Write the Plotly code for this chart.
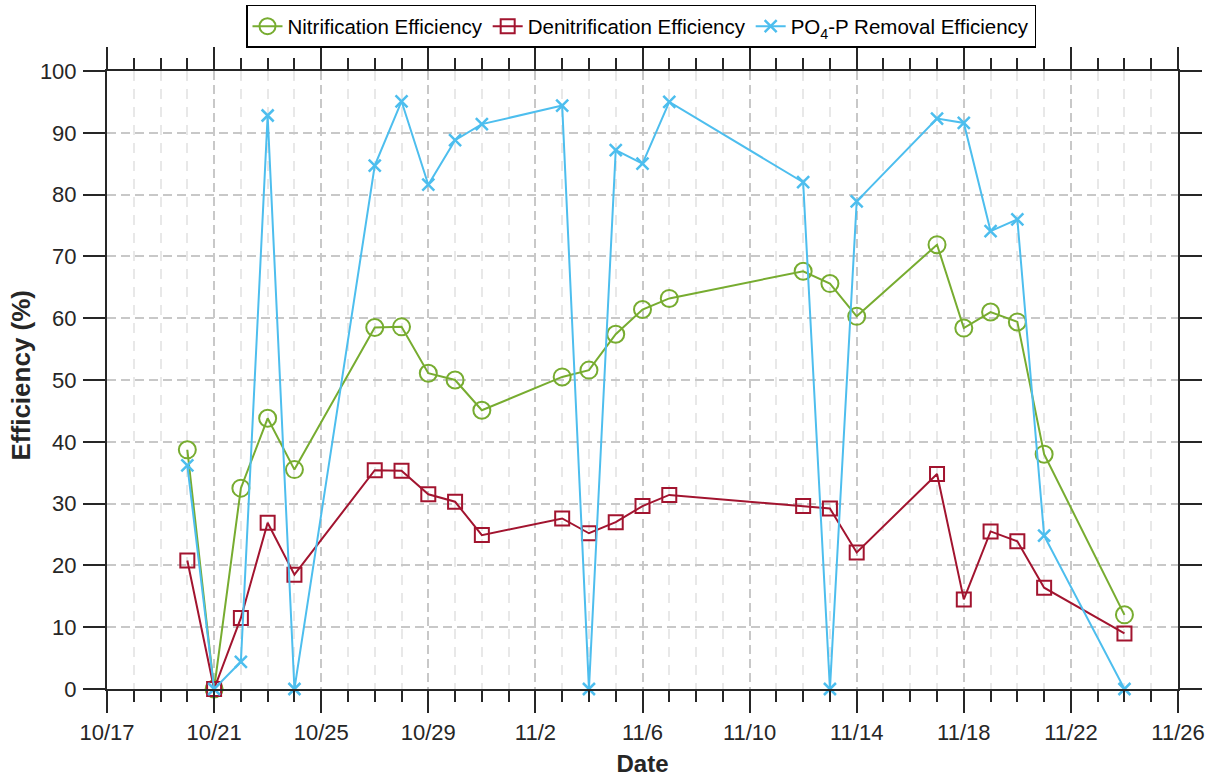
import plotly.graph_objects as go

dates = ["2023-10-20", "2023-10-21", "2023-10-22", "2023-10-23", "2023-10-24",
         "2023-10-27", "2023-10-28", "2023-10-29", "2023-10-30", "2023-10-31",
         "2023-11-03", "2023-11-04", "2023-11-05", "2023-11-06", "2023-11-07",
         "2023-11-12", "2023-11-13", "2023-11-14", "2023-11-17", "2023-11-18",
         "2023-11-19", "2023-11-20", "2023-11-21", "2023-11-24"]
nitrification = [38.7, 0, 32.5, 43.8, 35.5, 58.5, 58.6, 51.1, 50.0, 45.1,
                 50.5, 51.6, 57.4, 61.4, 63.2, 67.6, 65.6, 60.3, 71.9, 58.4,
                 61.0, 59.4, 38.0, 12.0]
denitrification = [20.8, 0, 11.5, 26.9, 18.5, 35.4, 35.3, 31.5, 30.3, 24.9,
                   27.6, 25.2, 27.0, 29.6, 31.4, 29.6, 29.2, 22.1, 34.8, 14.5,
                   25.5, 23.9, 16.4, 9.0]
po4_removal = [36.2, 0, 4.4, 92.8, 0, 84.7, 95.1, 81.6, 88.8, 91.4,
               94.4, 0, 87.2, 85.0, 95.0, 82.0, 0, 78.9, 92.3, 91.6,
               74.1, 76.0, 24.8, 0]

series_names = ["Nitrification Efficiency", "Denitrification Efficiency",
                "PO<sub>4</sub>-P Removal Efficiency"]
x_range = ["2023-10-17", "2023-11-26"]
y_ticks = [0, 10, 20, 30, 40, 50, 60, 70, 80, 90, 100]

FONT = "Liberation Sans, Arial, sans-serif"

fig = go.Figure()
fig.add_trace(go.Scatter(
    x=dates, y=nitrification, name=series_names[0], mode="lines+markers",
    line=dict(color="#77AC30", width=2),
    marker=dict(symbol="circle-open", size=17, color="#77AC30", line=dict(width=2)),
    cliponaxis=False))
fig.add_trace(go.Scatter(
    x=dates, y=denitrification, name=series_names[1], mode="lines+markers",
    line=dict(color="#A2142F", width=2),
    marker=dict(symbol="square-open", size=14, color="#A2142F", line=dict(width=2)),
    cliponaxis=False))
fig.add_trace(go.Scatter(
    x=dates, y=po4_removal, name=series_names[2], mode="lines+markers",
    line=dict(color="#4DBEEE", width=2),
    marker=dict(symbol="x-thin-open", size=12, color="#4DBEEE", line=dict(width=2.5)),
    cliponaxis=False))

fig.update_layout(
    width=1216, height=780,
    margin=dict(l=107, r=38, t=71, b=91, autoexpand=False),
    paper_bgcolor="white", plot_bgcolor="white",
    font=dict(family=FONT, size=22, color="#262626"),
    showlegend=True,
    legend=dict(orientation="h", x=0.4986, xanchor="center", y=1.107, yanchor="top",
                bordercolor="black", borderwidth=1.5, bgcolor="white",
                font=dict(size=20.5, color="black"), itemwidth=30,
                tracegroupgap=0),
    annotations=[dict(
        text="<b>Efficiency (%)</b>", textangle=-90,
        xref="paper", yref="paper", x=-0.0799, y=0.508,
        xanchor="center", yanchor="middle", showarrow=False,
        font=dict(size=26, color="#262626"))],
)

fig.update_xaxes(
    type="date", range=x_range,
    dtick=4 * 86400000, tick0="2023-10-17", tickformat="%-m/%-d",
    ticks="outside", ticklen=22, tickwidth=2, tickcolor="#262626",
    ticklabelstandoff=1, tickfont=dict(size=22),
    showline=True, linecolor="#262626", linewidth=2, mirror="allticks",
    showgrid=True, gridcolor="#c8c8c8", gridwidth=1.5, griddash="9px,5px",
    minor=dict(dtick=86400000, tick0="2023-10-17", ticks="outside", ticklen=11,
               tickwidth=2, tickcolor="#262626",
               showgrid=True, gridcolor="#e8e8e8", gridwidth=1.5, griddash="10px,8px"),
    zeroline=False,
    title=dict(text="<b>Date</b>", font=dict(size=24, color="#262626"), standoff=11),
    automargin=False,
)
fig.update_yaxes(
    range=[0, 100], tickvals=y_ticks,
    ticks="outside", ticklen=22, tickwidth=2, tickcolor="#262626",
    ticklabelstandoff=2, tickfont=dict(size=22),
    showline=True, linecolor="#262626", linewidth=2, mirror="allticks",
    showgrid=True, gridcolor="#c8c8c8", gridwidth=1.5, griddash="9px,5px",
    zeroline=False,
    automargin=False,
)

fig.write_html("out.html")
